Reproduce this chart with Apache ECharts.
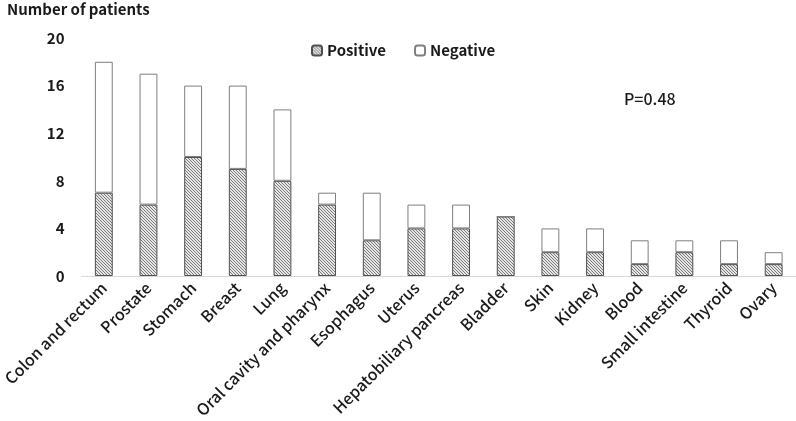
<!DOCTYPE html>
<html><head><meta charset="utf-8">
<script src="https://cdn.jsdelivr.net/npm/echarts@6/dist/echarts.min.js"></script>
<style>html,body{margin:0;padding:0;background:#fff}#c{width:796px;height:421px}</style>
</head><body><div id="c"></div>
<script>
const categories = ["Colon and rectum","Prostate","Stomach","Breast","Lung","Oral cavity and pharynx","Esophagus","Uterus","Hepatobiliary pancreas","Bladder","Skin","Kidney","Blood","Small intestine","Thyroid","Ovary"];
const positive = [7,6,10,9,8,6,3,4,4,5,2,2,1,2,1,1];
const negative = [11,11,6,7,6,1,4,2,2,0,2,2,2,1,2,1];
const yTicks = [0,4,8,12,16,20];

const pc = document.createElement('canvas');
pc.width = 3; pc.height = 3;
const g = pc.getContext('2d');
g.fillStyle = '#e6e6e6'; g.fillRect(0,0,3,3);
g.fillStyle = '#7a7a7a';
g.fillRect(0,0,1,1); g.fillRect(1,1,1,1); g.fillRect(2,2,1,1);

const font = '"Noto Sans CJK JP", "Noto Sans", sans-serif';
const chart = echarts.init(document.getElementById('c'), null, {renderer:'canvas'});
chart.setOption({
  animation:false,
  title:{text:'Number of patients', left:2, top:-3, textStyle:{fontFamily:font, fontSize:15, fontWeight:'bold', color:'#1a1a1a'}},
  legend:{top:38, left:306, itemGap:28, itemWidth:10, itemHeight:10, textStyle:{fontFamily:font, fontSize:15, fontWeight:'bold', color:'#1a1a1a'},
    data:['Positive','Negative']},
  grid:{left:75, right:0, top:38, bottom:145, containLabel:false},
  xAxis:{type:'category', data:categories,
    axisLine:{lineStyle:{color:'#d9d9d9'}}, axisTick:{show:false},
    axisLabel:{rotate:45, interval:0, fontFamily:font, fontSize:16, fontWeight:500, color:'#1a1a1a', margin:9}},
  yAxis:{type:'value', min:0, max:20, interval:4,
    axisLine:{show:false}, axisTick:{show:false}, splitLine:{show:false},
    axisLabel:{fontFamily:font, fontSize:15, fontWeight:'bold', color:'#1a1a1a', margin:17}},
  graphic:[{type:'text', left:624, top:91, style:{text:'P=0.48', fontFamily:font, fontSize:16, fontWeight:500, fill:'#1a1a1a'}}],
  series:[
    {name:'Positive', type:'bar', stack:'a', data:positive, barWidth:'40%',
      itemStyle:{color:{image:pc, repeat:'repeat'}, borderColor:'#505050', borderWidth:1}},
    {name:'Negative', type:'bar', stack:'a', data:negative, barWidth:'40%',
      itemStyle:{color:'#ffffff', borderColor:'#7f7f7f', borderWidth:1}}
  ]
});
</script></body></html>
